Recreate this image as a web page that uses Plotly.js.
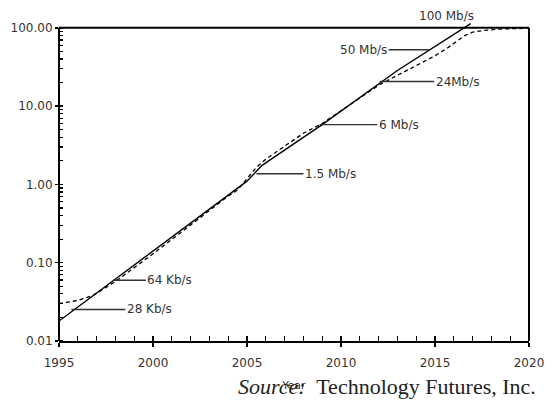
<!DOCTYPE html>
<html>
<head>
<meta charset="utf-8">
<script src="https://cdn.plot.ly/plotly-3.0.1.min.js"></script>
<style>html,body{margin:0;padding:0;background:#fff;}#chart{width:547px;height:400px;}</style>
</head>
<body>
<div id="chart"></div>
<script>
// Solid line (bandwidth trend)
const solidYears  = [1995, 2005.0, 2005.8, 2009, 2013, 2016.9];
const solidValues = [0.018, 1.1, 1.75, 5.8, 28.5, 113];

// Dashed line
const dashYears  = [1995, 1996.0, 1996.8, 1998, 2000, 2002, 2004, 2004.5, 2005.0, 2005.5, 2006, 2007, 2008, 2009, 2010, 2011, 2012, 2013, 2014, 2015, 2015.6, 2016.2, 2016.6, 2017, 2017.5, 2018.3, 2019, 2020];
const dashValues = [0.030, 0.033, 0.038, 0.0575, 0.13, 0.30, 0.71, 0.85, 1.2, 1.65, 2.1, 3.1, 4.5, 6.0, 8.8, 12.8, 18.5, 24.7, 33, 44, 54, 69, 80, 88, 92, 96, 98, 99];

// Leader labels
const labelText   = ["28 Kb/s", "64 Kb/s", "1.5 Mb/s", "6 Mb/s", "24Mb/s", "50 Mb/s"];
const labelYears  = [1995.66, 1997.87, 2005.5, 2008.87, 2012.06, 2014.72];
const labelValues = [0.0253, 0.0598, 1.37, 5.8, 20.6, 52.4];
const labelOffsetPx = [78, 57, 74, 79, 78, -66];

const topLabelText = "100 Mb/s";
const topLabelYear = 2015.62;

// Axes
const xTickVals = [1995, 2000, 2005, 2010, 2015, 2020];
const xTickText = ["1995", "2000", "2005", "2010", "2015", "2020"];
const yTickVals = [0.01, 0.1, 1, 10, 100];
const yTickText = ["0.01", "0.10", "1.00", "10.00", "100.00"];
const xRange = [1995, 2020];
const yRangeLog = [-2, 2.1];
const yTopLog = 2;

const sans = "DejaVu Sans, sans-serif";
const textColor = "#333";

const traces = [
  {x: solidYears, y: solidValues, mode: "lines", line: {color: "#000", width: 1.4}, hoverinfo: "skip", showlegend: false},
  {x: dashYears, y: dashValues, mode: "lines", line: {color: "#000", width: 1.3, dash: "4px,3px"}, hoverinfo: "skip", showlegend: false},
  {x: [], y: [], xaxis: "x2", yaxis: "y2", showlegend: false, hoverinfo: "skip"}
];

const topFrac = (yTopLog - yRangeLog[0]) / (yRangeLog[1] - yRangeLog[0]);

const annotations = labelText.map((t, i) => ({
  x: labelYears[i], y: Math.log10(labelValues[i]), xref: "x", yref: "y",
  text: t, showarrow: true, arrowhead: 0, arrowwidth: 1.4, arrowcolor: textColor,
  ax: labelOffsetPx[i], ay: 0, standoff: 0,
  font: {family: sans, size: 12, color: textColor}
}));
annotations.push({
  x: topLabelYear, y: 1.014, xref: "x", yref: "paper", text: topLabelText, showarrow: false,
  font: {family: sans, size: 12, color: textColor}, xanchor: "center", yanchor: "middle"
});
annotations.push({
  x: 1.0185, y: -0.143, xref: "paper", yref: "paper", xanchor: "right", yanchor: "middle",
  text: "<i>Source:</i>  Technology Futures, Inc.", showarrow: false,
  font: {family: "Liberation Serif, serif", size: 22, color: "#222"}
});

const layout = {
  width: 547, height: 400,
  margin: {l: 59, r: 18, t: 20, b: 59},
  paper_bgcolor: "#fff", plot_bgcolor: "#fff",
  showlegend: false,
  xaxis: {
    range: xRange, tickvals: xTickVals, ticktext: xTickText,
    ticks: "outside", ticklen: 4, tickwidth: 1.5, tickcolor: "#000",
    ticklabelstandoff: 6,
    showline: true, linecolor: "#000", linewidth: 2, showgrid: false, zeroline: false,
    tickfont: {family: sans, size: 12, color: textColor},
    minor: {ticks: "inside", dtick: 1, ticklen: 5, tickwidth: 1.3, tickcolor: "#000", showgrid: false},
    title: {text: "Year", font: {family: sans, size: 11, color: textColor}, standoff: 12}
  },
  xaxis2: {
    range: xRange, overlaying: "x", tickvals: xTickVals, ticks: "inside", ticklen: 4, tickwidth: 1.5,
    tickcolor: "#000", showticklabels: false, showline: false, showgrid: false, zeroline: false
  },
  yaxis: {
    type: "log", range: yRangeLog, tickvals: yTickVals, ticktext: yTickText,
    ticks: "outside", ticklen: 3, tickwidth: 1.5, tickcolor: "#000",
    showline: false, showgrid: false, zeroline: false,
    tickfont: {family: sans, size: 12, color: textColor},
    minor: {ticks: "inside", dtick: "D1", ticklen: 4, tickwidth: 1.2, tickcolor: "#000", showgrid: false}
  },
  yaxis2: {
    type: "log", range: yRangeLog, overlaying: "y", side: "left", tickvals: yTickVals, ticks: "inside",
    ticklen: 4, tickwidth: 1.5, tickcolor: "#000", showticklabels: false, showline: false, showgrid: false, zeroline: false
  },
  shapes: [
    {type: "line", xref: "paper", yref: "paper", x0: 0, x1: 0, y0: 0, y1: topFrac, line: {color: "#000", width: 2}},
    {type: "line", xref: "paper", yref: "paper", x0: 0, x1: 1, y0: topFrac, y1: topFrac, line: {color: "#000", width: 2}},
    {type: "line", xref: "paper", yref: "paper", x0: 1, x1: 1, y0: 0, y1: topFrac, line: {color: "#000", width: 2}}
  ],
  annotations: annotations
};

Plotly.newPlot("chart", traces, layout, {displayModeBar: false, staticPlot: true});
</script>
</body>
</html>
